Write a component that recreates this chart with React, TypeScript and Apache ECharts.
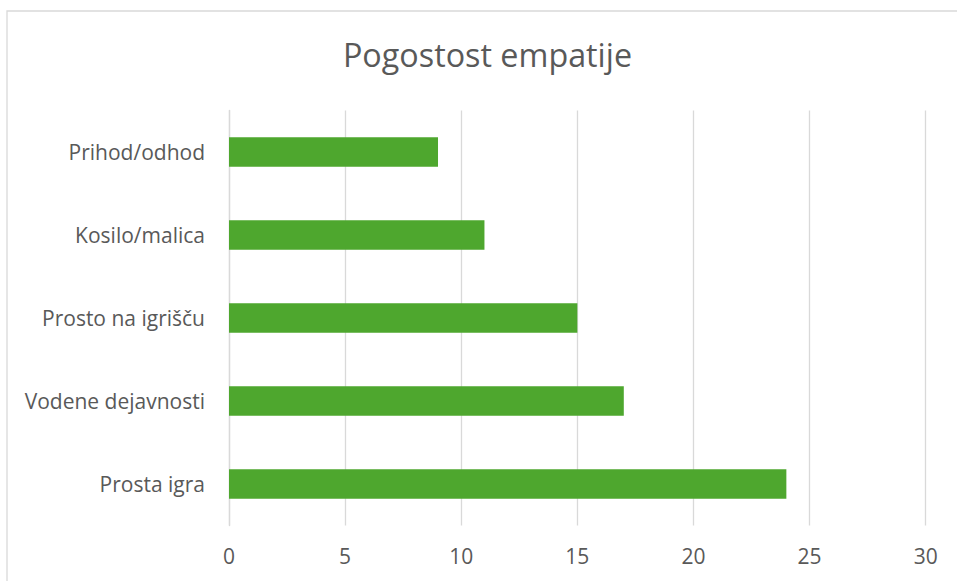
import React, { useEffect, useRef } from "react";
import * as echarts from "echarts";

const titleText = "Pogostost empatije";
const categories = [
  "Prihod/odhod",
  "Kosilo/malica",
  "Prosto na igrišču",
  "Vodene dejavnosti",
  "Prosta igra",
];
const values = [9, 11, 15, 17, 24];
const axisMin = 0;
const axisMax = 30;
const axisStep = 5;

const FONT = "'Open Sans', 'Liberation Sans', sans-serif";
const TEXT = "#595959";
const GRID = "#d9d9d9";
const BAR = "#4EA72E";

export default function App() {
  const ref = useRef<HTMLDivElement>(null);
  useEffect(() => {
    if (!ref.current) return;
    const chart = echarts.init(ref.current, undefined, { renderer: "svg" });
    chart.setOption({
      animation: false,
      backgroundColor: "#ffffff",
      graphic: [
        {
          type: "rect",
          shape: { x: 7, y: 11, width: 1000, height: 1000 },
          style: { fill: "none", stroke: GRID, lineWidth: 1.3 },
          silent: true,
          z: 0,
        },
        {
          type: "text",
          x: 487.5,
          y: 54,
          style: {
            text: titleText,
            fontFamily: FONT,
            fontSize: 32.3,
            fill: TEXT,
            align: "center",
            verticalAlign: "middle",
          },
        },
      ],
      grid: {
        left: 229,
        right: 31.3,
        top: 110.5,
        bottom: 55.5,
        containLabel: false,
      },
      xAxis: {
        type: "value",
        min: axisMin,
        max: axisMax,
        interval: axisStep,
        axisLine: { show: false },
        axisTick: { show: false },
        splitLine: { show: true, lineStyle: { color: GRID, width: 1.3 } },
        axisLabel: {
          color: TEXT,
          fontFamily: FONT,
          fontSize: 21,
          margin: 20,
        },
      },
      yAxis: {
        type: "category",
        data: categories,
        inverse: true,
        axisLine: { show: true, lineStyle: { color: GRID, width: 1.3 } },
        axisTick: { show: false },
        splitLine: { show: false },
        axisLabel: {
          color: TEXT,
          fontFamily: FONT,
          fontSize: 21,
          margin: 24,
        },
      },
      series: [
        {
          type: "bar",
          data: values,
          barWidth: 29.5,
          itemStyle: { color: BAR },
        },
      ],
    });
    return () => chart.dispose();
  }, []);
  return (
    <div
      ref={ref}
      style={{ position: "absolute", left: 0, top: 0, width: 957, height: 581 }}
    />
  );
}
